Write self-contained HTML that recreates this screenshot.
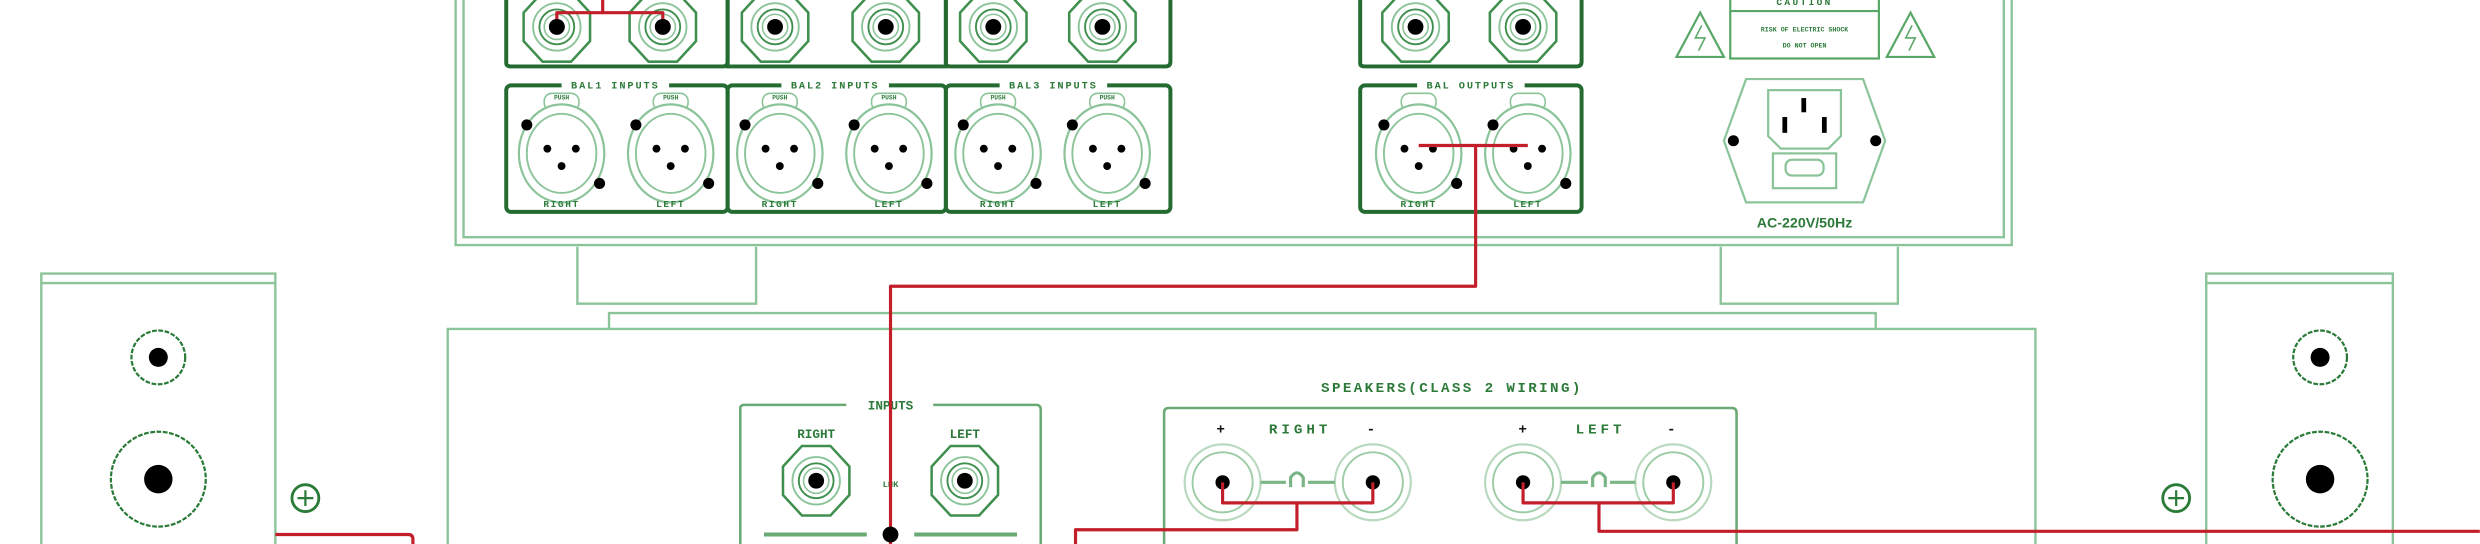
<!DOCTYPE html>
<html><head><meta charset="utf-8"><style>
html,body{margin:0;padding:0;background:#fff;}
svg{display:block;}
text{font-family:"Liberation Mono",monospace;font-weight:bold;fill:#2d7a3a;}
</style></head><body>
<svg width="2480" height="544" viewBox="0 0 1568 344" xmlns="http://www.w3.org/2000/svg">
<defs>
<g id="rca">
 <polygon points="-9,-22 9,-22 21,-9 21,9 9,22 -9,22 -21,9 -21,-9" fill="#fff" stroke="#3f8f4e" stroke-width="1.6"/>
 <circle r="15" fill="none" stroke="#8cc49a" stroke-width="1.2"/>
 <circle r="11" fill="none" stroke="#3f8f4e" stroke-width="1.2"/>
 <circle r="8" fill="none" stroke="#8cc49a" stroke-width="1"/>
 <circle r="5" fill="#000"/>
</g>
<g id="xlr">
 <rect x="-11" y="-38" width="22" height="11" rx="5" fill="#fff" stroke="#8cc49a" stroke-width="1"/>
 <ellipse rx="27" ry="31" fill="#fff" stroke="#8cc49a" stroke-width="1.4"/>
 <ellipse rx="22" ry="25" fill="none" stroke="#8cc49a" stroke-width="1.2"/>
 <circle cx="-9" cy="-3" r="2.5" fill="#000"/>
 <circle cx="9" cy="-3" r="2.5" fill="#000"/>
 <circle cx="0" cy="8" r="2.5" fill="#000"/>
 <circle cx="-22" cy="-18" r="3.5" fill="#000"/>
 <circle cx="24" cy="19" r="3.5" fill="#000"/>
</g>
<g id="post">
 <circle r="24" fill="#fff" stroke="#b9d9bf" stroke-width="1.4"/>
 <circle r="19" fill="none" stroke="#9ccca6" stroke-width="1.2"/>
 <circle r="4.5" fill="#000"/>
</g>
</defs>

<!-- TOP UNIT -->
<g fill="none" stroke="#8cc49a" stroke-width="1.5">
 <path d="M288,-5 V155 H1272 V-5"/>
 <path d="M293,-5 V150 H1267 V-5"/>
 <path d="M365,156 V192 H478 V156"/>
 <path d="M1088,156 V192 H1200 V156"/>
</g>
<g fill="none" stroke="#236b30" stroke-width="2.5">
 <path d="M320,-5 V40 Q320,42 323,42 H457 Q460,42 460,39 V-5"/>
 <path d="M460,-5 V42 H598 V-5"/>
 <path d="M598,-5 V40 Q598,42 601,42 H737 Q740,42 740,39 V-5"/>
 <path d="M860,-5 V40 Q860,42 863,42 H997 Q1000,42 1000,39 V-5"/>
 <rect x="320" y="54" width="140" height="80" rx="3"/>
 <rect x="460" y="54" width="138" height="80" rx="3"/>
 <rect x="598" y="54" width="142" height="80" rx="3"/>
 <rect x="860" y="54" width="140" height="80" rx="3"/>
</g>
<g font-size="6.5" text-anchor="middle" letter-spacing="1.2">
 <rect x="355" y="49" width="68" height="9" fill="#fff"/><text x="389" y="56">BAL1 INPUTS</text>
 <rect x="494" y="49" width="68" height="9" fill="#fff"/><text x="528" y="56">BAL2 INPUTS</text>
 <rect x="632" y="49" width="68" height="9" fill="#fff"/><text x="666" y="56">BAL3 INPUTS</text>
 <rect x="896" y="49" width="68" height="9" fill="#fff"/><text x="930" y="56">BAL OUTPUTS</text>
</g>
<use href="#rca" x="352" y="17"/><use href="#rca" x="419" y="17"/>
<use href="#rca" x="490" y="17"/><use href="#rca" x="560" y="17"/>
<use href="#rca" x="628" y="17"/><use href="#rca" x="697" y="17"/>
<use href="#rca" x="895" y="17"/><use href="#rca" x="963" y="17"/>
<use href="#xlr" x="355" y="97"/><use href="#xlr" x="424" y="97"/>
<use href="#xlr" x="493" y="97"/><use href="#xlr" x="562" y="97"/>
<use href="#xlr" x="631" y="97"/><use href="#xlr" x="700" y="97"/>
<use href="#xlr" x="897" y="97"/><use href="#xlr" x="966" y="97"/>
<g font-size="6" text-anchor="middle" letter-spacing="1">
 <text x="355" y="131">RIGHT</text><text x="424" y="131">LEFT</text>
 <text x="493" y="131">RIGHT</text><text x="562" y="131">LEFT</text>
 <text x="631" y="131">RIGHT</text><text x="700" y="131">LEFT</text>
 <text x="897" y="131">RIGHT</text><text x="966" y="131">LEFT</text>
</g>
<g font-size="4" text-anchor="middle">
 <text x="355" y="63">PUSH</text><text x="424" y="63">PUSH</text>
 <text x="493" y="63">PUSH</text><text x="562" y="63">PUSH</text>
 <text x="631" y="63">PUSH</text><text x="700" y="63">PUSH</text>
</g>
<!-- caution -->
<g fill="none" stroke="#5aa868" stroke-width="1.4">
 <path d="M1094,-5 V37 H1188 V-5"/>
 <line x1="1094" y1="7" x2="1188" y2="7"/>
 <polygon points="1075,8 1060,36 1090,36"/>
 <polygon points="1208,8 1193,36 1223,36"/>
 <path d="M1076,16 L1072,24 L1078,24 L1074,32" stroke-width="1"/>
 <path d="M1209,16 L1205,24 L1211,24 L1207,32" stroke-width="1"/>
</g>
<text x="1141" y="3" font-size="6" text-anchor="middle" letter-spacing="1.5">CAUTION</text>
<text x="1141" y="20" font-size="4.2" text-anchor="middle">RISK OF ELECTRIC SHOCK</text>
<text x="1141" y="30" font-size="4.2" text-anchor="middle">DO NOT OPEN</text>
<!-- power inlet -->
<g fill="none" stroke="#8cc49a" stroke-width="1.4">
 <polygon points="1104,50 1178,50 1192,89 1178,128 1104,128 1090,89"/>
 <path d="M1118,57 H1164 V86 L1156,94 H1126 L1118,86 Z"/>
 <rect x="1121" y="97" width="40" height="22"/>
 <rect x="1129" y="101" width="24" height="10" rx="4"/>
</g>
<rect x="1139" y="62" width="3" height="9" fill="#000"/>
<rect x="1127" y="74" width="3" height="10" fill="#000"/>
<rect x="1152" y="74" width="3" height="10" fill="#000"/>
<circle cx="1096" cy="89" r="3.5" fill="#000"/><circle cx="1186" cy="89" r="3.5" fill="#000"/>
<text x="1141" y="144" font-size="9" text-anchor="middle" font-weight="normal" style="font-family:'Liberation Sans',sans-serif">AC-220V/50Hz</text>

<!-- BOTTOM UNIT -->
<g fill="none" stroke="#8cc49a" stroke-width="1.5">
 <path d="M385,208 V198 H1186 V208"/>
 <path d="M283,350 V208 H1287 V350"/>
 <path d="M26,350 V173 H174 V350"/>
 <line x1="26" y1="179" x2="174" y2="179"/>
 <path d="M1395,350 V173 H1513 V350"/>
 <line x1="1395" y1="179" x2="1513" y2="179"/>
</g>
<g fill="none" stroke="#2a7a38" stroke-width="1.4">
 <circle cx="100" cy="226" r="17" stroke-dasharray="3,1"/>
 <circle cx="100" cy="303" r="30" stroke-dasharray="3,1"/>
 <circle cx="1467" cy="226" r="17" stroke-dasharray="3,1"/>
 <circle cx="1467" cy="303" r="30" stroke-dasharray="3,1"/>
 <circle cx="193" cy="315" r="8.5" stroke-width="1.8"/>
 <path d="M188,315 H198 M193,310 V320"/>
 <circle cx="1376" cy="315" r="8.5" stroke-width="1.8"/>
 <path d="M1371,315 H1381 M1376,310 V320"/>
</g>
<circle cx="100" cy="226" r="6" fill="#000"/><circle cx="100" cy="303" r="9" fill="#000"/>
<circle cx="1467" cy="226" r="6" fill="#000"/><circle cx="1467" cy="303" r="9" fill="#000"/>

<!-- inputs box -->
<g fill="none" stroke="#6aa874" stroke-width="1.6">
 <path d="M468,350 V258 Q468,256 471,256 H535 M590,256 H655 Q658,256 658,259 V350"/>
 <line x1="483" y1="338" x2="548" y2="338" stroke-width="2.5"/>
 <line x1="578" y1="338" x2="643" y2="338" stroke-width="2.5"/>
</g>
<text x="563" y="259" font-size="8" text-anchor="middle">INPUTS</text>
<text x="516" y="277" font-size="8" text-anchor="middle">RIGHT</text>
<text x="610" y="277" font-size="8" text-anchor="middle">LEFT</text>
<text x="563" y="308" font-size="5.5" text-anchor="middle">LNK</text>
<use href="#rca" x="516" y="304"/><use href="#rca" x="610" y="304"/>

<!-- speakers box -->
<path d="M736,350 V261 Q736,258 739,258 H1095 Q1098,258 1098,261 V350" fill="none" stroke="#6aa874" stroke-width="1.6"/>
<text x="918" y="248" font-size="9" text-anchor="middle" letter-spacing="1.5">SPEAKERS(CLASS 2 WIRING)</text>
<g font-size="9" text-anchor="middle" letter-spacing="2.5">
 <text x="773" y="274" fill="#000" style="fill:#111">+</text><text x="822" y="274">RIGHT</text><text x="868" y="274" style="fill:#111">-</text>
 <text x="964" y="274" style="fill:#111">+</text><text x="1012" y="274">LEFT</text><text x="1058" y="274" style="fill:#111">-</text>
</g>
<use href="#post" x="773" y="305"/><use href="#post" x="868" y="305"/>
<use href="#post" x="963" y="305"/><use href="#post" x="1058" y="305"/>
<g stroke="#7ab585" stroke-width="2" fill="none">
 <path d="M797,305 H813 M827,305 H844"/><path d="M816,308 V302 Q820,296 824,302 V308"/>
 <path d="M987,305 H1004 M1018,305 H1034"/><path d="M1007,308 V302 Q1011,296 1015,302 V308"/>
</g>

<!-- red wires -->
<g fill="none" stroke="#c21f2b" stroke-width="2" stroke-linejoin="round">
 <path d="M381,-2 V8 H352 V16 M381,8 H419 V16"/>
 <path d="M897,92 H966 M933,92 V181 H563 V344"/>
 <path d="M773,305 V318 H868 V305 M820,318 V335 H680 V345"/>
 <path d="M963,305 V318 H1058 V305 M1011,318 V336 H1568"/>
 <path d="M174,338 H258 Q261,338 261,341 V345"/>
</g>
<circle cx="563" cy="338" r="5" fill="#000"/>
<circle cx="352" cy="17" r="5" fill="#000"/><circle cx="419" cy="17" r="5" fill="#000"/>
</svg>
</body></html>
